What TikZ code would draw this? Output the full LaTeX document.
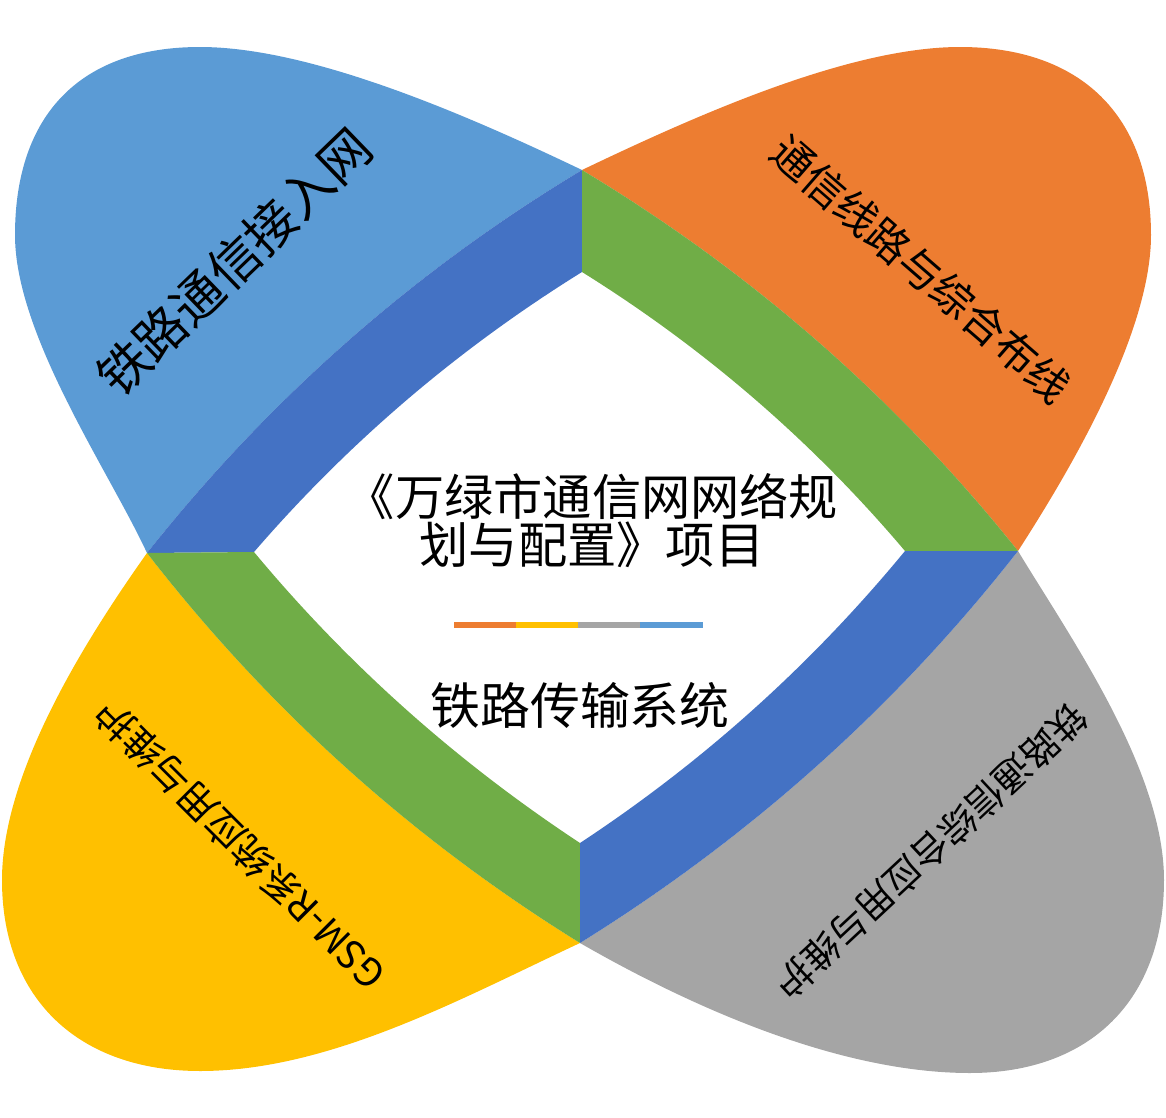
\documentclass[tikz,border=0pt]{standalone}
\usepackage{fontspec}
\setmainfont{Noto Sans CJK SC}
\definecolor{lblue}{HTML}{5B9BD5}
\definecolor{dblue}{HTML}{4472C4}
\definecolor{orng}{HTML}{ED7D31}
\definecolor{gry}{HTML}{A5A5A5}
\definecolor{ylw}{HTML}{FFC000}
\definecolor{grn}{HTML}{70AD47}
\begin{document}
\begin{tikzpicture}[x=0.01cm,y=-0.01cm,
  lbl/.style={inner sep=0pt, text=black},
  ctr/.style={inner sep=0pt, text=black, align=center}]
\useasboundingbox (0,0) rectangle (1166,1118);
% key points
\coordinate (T) at (582,170);
\coordinate (L) at (147,553);
\coordinate (R) at (1018,551);
\coordinate (B) at (580,943);
\coordinate (IT) at (582,272);
\coordinate (IL) at (254,552);
\coordinate (IR) at (905,551);
\coordinate (IB) at (580,843);
% petals
\fill[lblue] (T) .. controls (465,114) and (310,47) .. (200,47)
  .. controls (80,47) and (15,115) .. (15,235)
  .. controls (15,335) and (109,471) .. (L)
  .. controls (269,399) and (414,271) .. (T) -- cycle;
\fill[orng] (T) .. controls (699,114) and (850,47) .. (960,47)
  .. controls (1080,47) and (1151,115) .. (1151,235)
  .. controls (1151,335) and (1067,475) .. (R)
  .. controls (896,398) and (750,271) .. (T) -- cycle;
\fill[ylw] (L) .. controls (89,635) and (2,770) .. (2,880)
  .. controls (2,1000) and (80,1071) .. (200,1071)
  .. controls (330,1071) and (462,998) .. (B)
  .. controls (412,839) and (268,709) .. (L) -- cycle;
\fill[gry] (R) .. controls (1070,637) and (1164,770) .. (1164,880)
  .. controls (1164,1000) and (1090,1073) .. (970,1073)
  .. controls (840,1073) and (693,1008) .. (B)
  .. controls (749,838) and (895,708) .. (R) -- cycle;
% bands
\fill[dblue] (L) -- (IL) .. controls (349,442) and (458,349) .. (IT) -- (T) .. controls (414,271) and (269,399) .. (L) -- cycle;
\fill[grn] (T) -- (IT) .. controls (704,348) and (812,441) .. (IR) -- (R) .. controls (896,398) and (750,271) .. (T) -- cycle;
\fill[grn] (L) -- (IL) .. controls (348,665) and (457,762) .. (IB) -- (B) .. controls (412,839) and (268,709) .. (L) -- cycle;
\fill[dblue] (R) -- (IR) .. controls (811,665) and (703,762) .. (IB) -- (B) .. controls (749,838) and (895,708) .. (R) -- cycle;
% petal labels
\node[lbl, rotate=44, font=\fontsize{14.5}{16}\selectfont] (labA) at (234,262) {铁路通信接入网};
\node[lbl, rotate=-41, font=\fontsize{12}{14}\selectfont] (labB) at (921,269) {通信线路与综合布线};
\node[lbl, rotate=135, font=\fontsize{11}{13}\selectfont] (labC) at (240,845) {GSM-R系统应用与维护};
\node[lbl, rotate=-137, font=\fontsize{10.6}{12}\selectfont] (labD) at (931,851) {铁路通信综合应用与维护};
% centre
\node[ctr, font=\fontsize{14}{13.7}\selectfont] (title) at (592,521) {《万绿市通信网网络规\\划与配置》项目};
\fill[orng] (454,622) rectangle (516,628);
\fill[ylw] (516,622) rectangle (578,628);
\fill[gry] (578,622) rectangle (640,628);
\fill[lblue] (640,622) rectangle (703,628);
\node[ctr, font=\fontsize{14.2}{16}\selectfont] (sub) at (580,705) {铁路传输系统};
\end{tikzpicture}
\end{document}
